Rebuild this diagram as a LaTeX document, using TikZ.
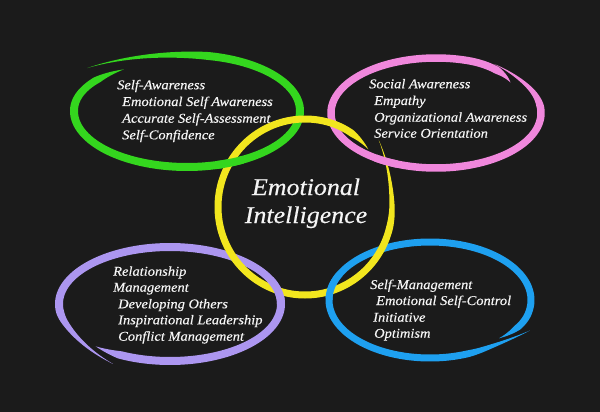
\documentclass[tikz,border=0pt]{standalone}
\usepackage{fontspec}
\setmainfont{Liberation Serif}
\newfontfamily\lblfont[FakeStretch=1.08,FakeBold=0.35]{Liberation Serif}
\definecolor{bgc}{RGB}{27,27,27}
\definecolor{txtc}{RGB}{245,245,245}
\definecolor{cgreen}{RGB}{52,214,30}
\definecolor{cpink}{RGB}{240,135,220}
\definecolor{cpurple}{RGB}{172,150,240}
\definecolor{cblue}{RGB}{30,160,240}
\definecolor{cyellow}{RGB}{242,230,30}
\newcommand\rggeom[4]{\def\rgCx{#1}\def\rgCy{#2}\def\rgRx{#3}\def\rgRy{#4}}
\newcommand\rgends[9]{\def\rgS{#1}\def\rgE{#2}\def\rgW{#3}\def\rgTL{#4}\def\rgTH{#5}\def\rgKL{#6}\def\rgDL{#7}\def\rgKH{#8}\def\rgDH{#9}}
\newcommand\rgdraw[1]{%
  \fill[#1] plot[domain=\rgS:\rgE,samples=320,variable=\t] ({xo(\t)},{yo(\t)})
    -- plot[domain=\rgS:\rgE,samples=320,variable=\t] ({xi(\rgS+\rgE-\t)},{yi(\rgS+\rgE-\t)}) -- cycle;}
\tikzset{
  declare function={
    kk(\t)=1+\rgKL*max(0,1-(\t-\rgS)/\rgDL)^2+\rgKH*max(0,1-(\rgE-\t)/\rgDH)^2;
    ww(\t)=\rgW*min(1,(\t-\rgS)/\rgTL,(\rgE-\t)/\rgTH);
    xo(\t)=\rgCx+(kk(\t)*\rgRx+ww(\t)/2)*cos(\t);
    yo(\t)=\rgCy+(kk(\t)*\rgRy+ww(\t)/2)*sin(\t);
    xi(\t)=\rgCx+(kk(\t)*\rgRx-ww(\t)/2)*cos(\t);
    yi(\t)=\rgCy+(kk(\t)*\rgRy-ww(\t)/2)*sin(\t);
  },
  txt/.style={anchor=base west, inner sep=0pt, text=txtc, font=\lblfont\itshape\fontsize{13.4}{16}\selectfont},
  ttl/.style={anchor=base, inner sep=0pt, text=txtc, font=\lblfont\itshape\fontsize{24}{28}\selectfont}
}
\newcommand\greenring{\rggeom{187}{111}{113}{56}\rgends{-139}{233}{8}{60}{18}{0.17}{55}{-0.07}{50}\rgdraw{cgreen}}
\newcommand\pinkring{\rggeom{436}{113}{105}{55}\rgends{-418}{-38}{7.5}{50}{15}{0.05}{30}{-0.1}{35}\rgdraw{cpink}}
\newcommand\yellowring{\rggeom{305}{207}{87}{88}\rgends{-42}{318}{7}{55}{15}{0.14}{40}{-0.02}{30}\rgdraw{cyellow}}
\newcommand\purplering{\rggeom{170}{304}{111}{57}\rgends{-244}{132}{8}{55}{15}{0.17}{45}{0}{30}\rgdraw{cpurple}}
\newcommand\bluering{\rggeom{430}{300}{101}{58}\rgends{28}{404}{7}{40}{15}{0.12}{30}{-0.05}{30}\rgdraw{cblue}}
\begin{document}
\begin{tikzpicture}[x=1pt,y=-1pt]
\fill[bgc] (0,0) rectangle (600,412);
\useasboundingbox (0,0) rectangle (600,412);
\greenring
\pinkring
\purplering
\bluering
\yellowring
\begin{scope}
  \clip (230,162) circle (14);
  \greenring
\end{scope}
\begin{scope}
  \clip (386,162) circle (12);
  \pinkring
\end{scope}
\begin{scope}
  \clip (279,290) circle (14);
  \purplering
\end{scope}
\begin{scope}
  \clip (333,286) circle (14);
  \bluering
\end{scope}
% green block
\node[txt] (g1) at (117,89.3) {Self-Awareness};
\node[txt] (g2) at (122,106) {Emotional Self Awareness};
\node[txt] (g3) at (122,122.7) {Accurate Self-Assessment};
\node[txt] (g4) at (122,139.3) {Self-Confidence};
% pink block
\node[txt] (p1) at (369,88.3) {Social Awareness};
\node[txt] (p2) at (374,105) {Empathy};
\node[txt] (p3) at (374,121.7) {Organizational Awareness};
\node[txt] (p4) at (374,137.7) {Service Orientation};
% purple block
\node[txt] (u1) at (113,275.7) {Relationship};
\node[txt] (u2) at (113,291.7) {Management};
\node[txt] (u3) at (118,308.3) {Developing Others};
\node[txt] (u4) at (118,324.3) {Inspirational Leadership};
\node[txt] (u5) at (118,340.7) {Conflict Management};
% blue block
\node[txt] (b1) at (370,289) {Self-Management};
\node[txt] (b2) at (376,305) {Emotional Self-Control};
\node[txt] (b3) at (373,321.7) {Initiative};
\node[txt] (b4) at (374,337.7) {Optimism};
% title
\node[ttl] (t1) at (306,195) {Emotional};
\node[ttl] (t2) at (306,223) {Intelligence};
\end{tikzpicture}
\end{document}
